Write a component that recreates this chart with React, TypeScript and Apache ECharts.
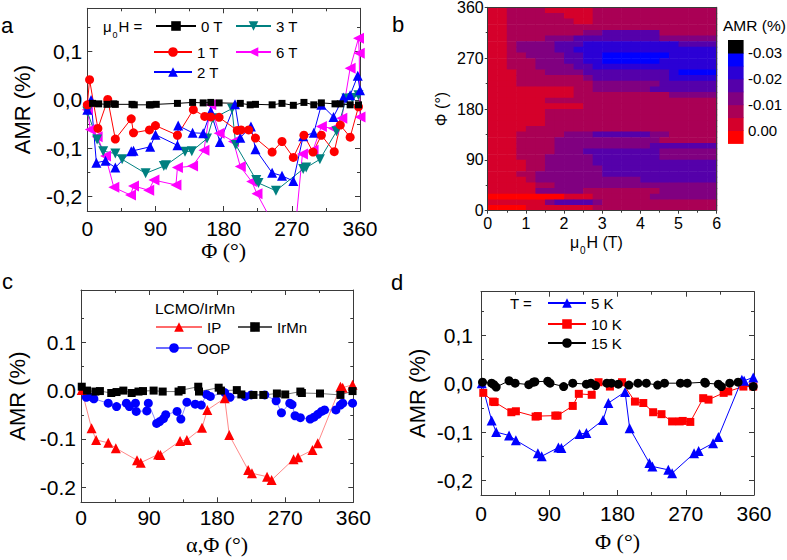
import React, { useEffect, useRef } from 'react';
import * as echarts from 'echarts';

const SANS = '"Liberation Sans", Arial, Helvetica, sans-serif';
const SERIF = '"Liberation Serif", "Times New Roman", Times, serif';
const INK = '#000000';
const FRAME = '#3a3a3a';

// ---------- shared ticks ----------
const PHI_TICK_STEP = 90;
const AMR_MAJOR = [-0.2, -0.1, 0, 0.1];
const AMR_MINOR = [-0.15, -0.05, 0.05, 0.15];

// ---------- panel a : AMR vs Φ for several fields ----------
const A_0T = [[7,-0.007],[15,-0.008],[26,-0.009],[35,-0.008],[37,-0.009],[59,-0.009],[62,-0.01],[82,-0.01],[84,-0.01],[91,-0.009],[119,-0.007],[139,-0.005],[153,-0.006],[163,-0.005],[174,-0.006],[202,-0.007],[215,-0.01],[222,-0.009],[244,-0.01],[257,-0.007],[272,-0.011],[286,-0.005],[299,-0.01],[309,-0.006],[327,-0.008],[334,-0.008],[347,-0.01],[358,-0.01]];
const A_1T = [[0,-0.01],[3,0.042],[14,-0.059],[27,0.001],[37,-0.081],[58,-0.039],[61,-0.068],[82,-0.062],[90,-0.053],[119,-0.073],[140,-0.02],[155,-0.034],[163,-0.035],[174,-0.036],[198,-0.063],[203,-0.062],[213,-0.062],[222,-0.079],[244,-0.108],[257,-0.086],[272,-0.119],[286,-0.073],[298,-0.108],[309,-0.073],[326,-0.107],[334,-0.052],[347,-0.077],[358,-0.014]];
const A_2T = [[0,-0.02],[5,0.0],[12,-0.13],[24,-0.126],[37,-0.14],[58,-0.106],[61,-0.105],[83,-0.097],[90,-0.072],[119,-0.094],[120,-0.053],[139,-0.068],[153,-0.069],[163,-0.024],[175,-0.087],[195,-0.009],[202,-0.078],[216,-0.055],[222,-0.102],[244,-0.151],[257,-0.157],[272,-0.168],[285,-0.075],[299,-0.068],[309,-0.01],[325,-0.035],[338,0.005],[347,0.01],[357,0.05],[360,0.02]];
const A_3T = [[0,-0.024],[13,-0.082],[21,-0.106],[37,-0.111],[46,-0.123],[77,-0.152],[101,-0.137],[104,-0.135],[129,-0.107],[138,-0.106],[158,-0.08],[166,-0.038],[191,-0.018],[196,-0.093],[223,-0.166],[226,-0.172],[249,-0.188],[285,-0.143],[289,-0.14],[307,-0.123],[329,-0.065],[342,0.003],[350,0.004],[358,0.01]];
const A_6T = [[0,-0.02],[4,-0.061],[13,-0.076],[24,-0.116],[35,-0.181],[57,-0.197],[61,-0.178],[81,-0.187],[88,-0.166],[117,-0.176],[119,-0.14],[139,-0.137],[154,-0.104],[163,-0.01],[174,-0.069],[193,-0.086],[202,-0.138],[217,-0.169],[224,-0.194],[250,-0.27],[275,-0.26],[284,-0.112],[298,-0.104],[309,-0.055],[325,-0.059],[336,-0.038],[347,0.066],[358,0.128],[359,0.097],[360,-0.035]];

// ---------- panel b : contour map AMR(μ0H, Φ) ----------
const FIELD_TICK_STEP = 1;
const HEAT_FIELD_STEP = 0.25; // T per cell
const HEAT_PHI_STEP = 10; // degrees per cell
// colour-bar band edges (AMR %), top band value 0.005 .. bottom -0.035
const COLORBAR_EDGES = [0.005, 0, -0.005, -0.01, -0.015, -0.02, -0.025, -0.03, -0.035];
const COLORBAR_TICKS = [-0.03, -0.02, -0.01, 0];
const BAND_COLORS = ['#FF0000', '#D5002B', '#AA0055', '#800080', '#5500AA', '#2B00D5', '#0000FF', '#000000'];
// AMR value of each band (band centre)
const BAND_VALUES = [0.0025, -0.0025, -0.0075, -0.0125, -0.0175, -0.0225, -0.0275, -0.0325];
// rows from Φ = 360 (top) to Φ = 0 (bottom); each char = band index of a 0.25 T cell, μ0H 0 → 6 T
const HEAT_ROWS = [
  '112222111112222222222222',
  '112222221112222222222222',
  '112222222112222222222222',
  '112222222222222222222222',
  '112222222233444444222222',
  '112222333444444444333333',
  '112333344455555555554444',
  '112333344555555555555555',
  '112233334455666666655555',
  '112223334455666666555555',
  '112223333445555555555555',
  '111222333344444444456666',
  '111222222234444444455555',
  '111222222223333333444444',
  '111111111223333334444444',
  '111111111222222222233333',
  '111111222222222222222222',
  '111111111122222222222222',
  '111111222222222222222222',
  '111111222222222222222222',
  '111111222222222222222222',
  '111122222222222222222222',
  '111222223334444443322222',
  '111222233333333333222222',
  '111222233333333334444444',
  '111222233344444444333333',
  '111222333334444444333333',
  '111122333334444444444444',
  '111122333333444444444444',
  '111223333333444444444444',
  '111123333333333344444444',
  '111112233333333333333333',
  '111113333322222222333333',
  '000000001112222223333333',
  '111111344443222222222222',
  '000011111112222222222222',
];

// ---------- panel c : LCMO/IrMn ----------
const C_IP = [[1,0.001],[14,-0.078],[20,-0.102],[36,-0.108],[46,-0.119],[74,-0.144],[79,-0.149],[102,-0.132],[105,-0.133],[131,-0.104],[140,-0.102],[160,-0.077],[167,-0.04],[190,-0.016],[196,-0.092],[221,-0.164],[226,-0.171],[246,-0.178],[252,-0.185],[281,-0.142],[287,-0.138],[306,-0.123],[313,-0.109],[343,0.008],[346,0.006],[359,0.012]];
const C_OOP = [[7,-0.014],[15,-0.014],[17,-0.017],[36,-0.026],[47,-0.033],[60,-0.026],[64,-0.033],[72,-0.026],[73,-0.043],[87,-0.042],[89,-0.026],[100,-0.068],[104,-0.064],[109,-0.058],[112,-0.05],[127,-0.043],[132,-0.059],[140,-0.024],[151,-0.028],[159,-0.03],[166,-0.008],[171,-0.012],[190,-0.004],[197,-0.014],[217,-0.012],[225,-0.009],[243,-0.009],[258,-0.021],[265,-0.046],[276,-0.026],[279,-0.029],[283,-0.052],[290,-0.056],[303,-0.059],[308,-0.055],[313,-0.049],[318,-0.043],[322,-0.04],[337,-0.04],[343,-0.03],[346,-0.026],[359,-0.026]];
const C_IRMN = [[1,0.008],[8,0.0],[19,-0.002],[25,-0.001],[40,-0.005],[47,-0.003],[56,0.0],[67,-0.005],[76,-0.002],[82,-0.001],[96,0.0],[108,-0.002],[129,-0.002],[133,0.001],[155,0.008],[156,-0.002],[182,0.006],[185,0.0],[206,0.001],[212,-0.008],[228,-0.009],[241,-0.009],[259,-0.006],[270,-0.008],[290,-0.002],[292,-0.005],[316,-0.006],[343,-0.009],[359,-0.001]];

// ---------- panel d : temperatures ----------
const D_5K = [[1,0.001],[14,-0.076],[20,-0.1],[37,-0.107],[46,-0.117],[75,-0.144],[80,-0.15],[102,-0.132],[106,-0.133],[130,-0.104],[139,-0.102],[161,-0.075],[168,-0.04],[190,-0.017],[196,-0.092],[222,-0.164],[226,-0.171],[247,-0.178],[252,-0.185],[281,-0.144],[287,-0.139],[306,-0.123],[313,-0.11],[344,0.008],[347,0.006],[359,0.013]];
const D_10K = [[3,-0.019],[16,-0.037],[18,-0.038],[40,-0.059],[46,-0.057],[72,-0.068],[75,-0.067],[98,-0.066],[101,-0.066],[121,-0.046],[129,-0.021],[146,-0.023],[155,0.003],[170,-0.006],[186,0.003],[203,-0.037],[214,-0.04],[227,-0.059],[238,-0.063],[252,-0.078],[262,-0.078],[266,-0.077],[276,-0.079],[293,-0.03],[300,-0.033],[320,-0.019],[326,-0.016],[346,-0.006],[359,-0.006]];
const D_15K = [[2,0.003],[14,0.001],[17,-0.002],[20,-0.007],[37,0.006],[45,0.001],[63,-0.002],[69,0.003],[71,0.004],[88,0.005],[91,0.001],[109,-0.006],[121,0.001],[139,-0.001],[145,0.001],[151,-0.004],[166,0.001],[172,0.001],[181,-0.001],[195,-0.003],[207,0.001],[218,0.001],[233,-0.003],[242,0.001],[263,0.001],[272,0.001],[295,0.003],[296,0.001],[313,-0.001],[317,-0.006],[328,0.001],[339,0.003],[359,-0.006]];

const TRI_DOWN = 'path://M0,0L10,0L5,10Z';
const TRI_LEFT = 'path://M0,5L10,0L10,10Z';

function colorFor(v: number): string {
  for (let i = 0; i < BAND_COLORS.length; i++) {
    if (v <= COLORBAR_EDGES[i] && v > COLORBAR_EDGES[i + 1]) return BAND_COLORS[i];
  }
  return v > 0 ? BAND_COLORS[0] : BAND_COLORS[BAND_COLORS.length - 1];
}

const commaFmt = (v: number) => v.toFixed(1).replace('.', ',');
const dotFmt = (v: number) => v.toFixed(1);

function linePanelAxes(grid: number, yRange: number[], yFmt: (v: number) => string, xName: string, xGap: number, yGap: number, xMargin: number, yMargin: number) {
  const line = { show: true, onZero: false, lineStyle: { color: FRAME, width: 1 } };
  const tickStyle = { color: FRAME, width: 1 };
  const xCommon: any = {
    type: 'value', gridIndex: grid, min: 0, max: 360, interval: PHI_TICK_STEP,
    splitLine: { show: false }, axisLine: line,
    axisTick: { show: true, inside: true, length: 5, lineStyle: tickStyle },
    minorTick: { show: true, splitNumber: 2, length: 3, lineStyle: tickStyle },
  };
  const xs = [
    { ...xCommon, position: 'bottom',
      axisLabel: { show: true, fontSize: 21, color: INK, fontFamily: SANS, margin: xMargin },
      name: xName, nameLocation: 'middle', nameGap: xGap,
      nameTextStyle: { fontSize: 22, fontFamily: SERIF, color: INK } },
    { ...xCommon, position: 'top', axisLabel: { show: false } },
  ];
  const yCommon: any = {
    type: 'value', gridIndex: grid, min: yRange[0], max: yRange[1],
    splitLine: { show: false }, axisLine: line, axisLabel: { show: false },
  };
  const ys = [
    { ...yCommon, position: 'left',
      axisTick: { show: true, inside: true, length: 5, customValues: AMR_MAJOR, lineStyle: tickStyle },
      axisLabel: { show: true, customValues: AMR_MAJOR, formatter: yFmt, fontSize: 21, color: INK, fontFamily: SANS, margin: yMargin },
      name: 'AMR (%)', nameLocation: 'middle', nameGap: yGap,
      nameTextStyle: { fontSize: 22, fontFamily: SANS, color: INK } },
    { ...yCommon, position: 'right',
      axisTick: { show: true, inside: true, length: 5, customValues: AMR_MAJOR, lineStyle: tickStyle } },
    { ...yCommon, position: 'left', axisLine: { show: false, onZero: false },
      axisTick: { show: true, inside: true, length: 3, customValues: AMR_MINOR, lineStyle: tickStyle } },
    { ...yCommon, position: 'right', axisLine: { show: false, onZero: false },
      axisTick: { show: true, inside: true, length: 3, customValues: AMR_MINOR, lineStyle: tickStyle } },
  ];
  return { xs, ys };
}

function lineSeries(name: string, data: number[][], xi: number, yi: number, color: string, symbol: string, size: number, lineColor?: string, lineWidth?: number) {
  return {
    type: 'line', name, data, xAxisIndex: xi, yAxisIndex: yi,
    symbol, symbolSize: size, showSymbol: true, clip: true,
    itemStyle: { color, borderWidth: 0 },
    lineStyle: { color: lineColor || color, width: lineWidth || 1 },
    emphasis: { disabled: true }, z: 3,
  };
}

function legendItem(name: string, left: number, top: number, itemWidth: number) {
  return {
    data: [name], left, top, orient: 'horizontal', itemWidth, itemHeight: 12, itemGap: 0,
    padding: 0, selectedMode: false,
    textStyle: { fontSize: 15, color: INK, fontFamily: SANS, lineHeight: 16 },
  };
}

function txt(text: string, x: number, y: number, size: number, family = SANS, rotation = 0) {
  return {
    type: 'text', x, y, rotation, z: 100, silent: true,
    style: {
      text, fill: INK, font: `${size}px ${family}`,
      align: 'left', verticalAlign: 'middle', textAlign: 'left', textVerticalAlign: 'middle',
    },
  };
}

function rectItem(_params: any, api: any) {
  const p0 = api.coord([api.value(0), api.value(2)]);
  const p1 = api.coord([api.value(1), api.value(3)]);
  const x = Math.min(p0[0], p1[0]);
  const y = Math.min(p0[1], p1[1]);
  return {
    type: 'rect',
    shape: { x, y, width: Math.abs(p1[0] - p0[0]) + 0.6, height: Math.abs(p1[1] - p0[1]) + 0.6 },
    style: { fill: colorFor(api.value(4)) },
  };
}

function buildOption() {
  const heatData: number[][] = [];
  HEAT_ROWS.forEach((row, i) => {
    const phiTop = 360 - i * HEAT_PHI_STEP;
    for (let j = 0; j < row.length; j++) {
      const lvl = Number(row[j]);
      heatData.push([j * HEAT_FIELD_STEP, (j + 1) * HEAT_FIELD_STEP, phiTop - HEAT_PHI_STEP, phiTop, BAND_VALUES[lvl]]);
    }
  });
  const barData: number[][] = [];
  for (let i = 0; i < COLORBAR_EDGES.length - 1; i++) {
    barData.push([0, 1, COLORBAR_EDGES[i + 1], COLORBAR_EDGES[i], BAND_VALUES[i]]);
  }

  const a = linePanelAxes(0, [-0.23, 0.19], commaFmt, 'Φ (°)', 27, 54, 7, 5);
  const c = linePanelAxes(3, [-0.231, 0.208], dotFmt, 'α,Φ (°)', 31, 53, 5, 5);
  const d = linePanelAxes(4, [-0.23, 0.19], commaFmt, 'Φ (°)', 35, 53, 8, 8);

  const bLine = { show: true, onZero: false, lineStyle: { color: FRAME, width: 1 } };
  const bTick = { color: FRAME, width: 1 };
  const bX = [
    { type: 'value', gridIndex: 1, min: 0, max: 6, interval: FIELD_TICK_STEP, position: 'bottom', z: 10,
      axisLine: bLine, axisTick: { show: true, inside: false, length: 3, lineStyle: bTick },
      minorTick: { show: true, splitNumber: 2, length: 2, lineStyle: bTick },
      axisLabel: { fontSize: 16, color: INK, fontFamily: SANS, margin: 5 }, splitLine: { show: false } },
    { type: 'value', gridIndex: 1, min: 0, max: 6, position: 'top', z: 10,
      axisLine: bLine, axisTick: { show: false }, axisLabel: { show: false }, splitLine: { show: false } },
  ];
  const bY = [
    { type: 'value', gridIndex: 1, min: 0, max: 360, interval: PHI_TICK_STEP, position: 'left', z: 10,
      axisLine: bLine, axisTick: { show: true, inside: false, length: 3, lineStyle: bTick },
      minorTick: { show: true, splitNumber: 2, length: 2, lineStyle: bTick },
      axisLabel: { fontSize: 16, color: INK, fontFamily: SANS, margin: 4 }, splitLine: { show: false },
      name: 'Φ (°)', nameLocation: 'middle', nameGap: 38,
      nameTextStyle: { fontSize: 16, fontFamily: SANS, color: INK } },
    { type: 'value', gridIndex: 1, min: 0, max: 360, position: 'right', z: 10,
      axisLine: bLine, axisTick: { show: false }, axisLabel: { show: false }, splitLine: { show: false } },
  ];
  const cbX = [{ type: 'value', gridIndex: 2, min: 0, max: 1, show: false }];
  const cbY = [{ type: 'value', gridIndex: 2, min: COLORBAR_EDGES[COLORBAR_EDGES.length - 1], max: COLORBAR_EDGES[0],
    inverse: true, position: 'right', axisLine: { show: false }, axisTick: { show: false }, splitLine: { show: false },
    axisLabel: { show: true, customValues: COLORBAR_TICKS, formatter: (v: number) => v.toFixed(2), fontSize: 15, color: INK, fontFamily: SANS, margin: 5 } }];

  // axis index bookkeeping
  const xAxis = [...a.xs, ...bX, ...cbX, ...c.xs, ...d.xs]; // a:0,1 b:2,3 cb:4 c:5,6 d:7,8
  const yAxis = [...a.ys, ...bY, ...cbY, ...c.ys, ...d.ys]; // a:0-3 b:4,5 cb:6 c:7-10 d:11-14

  const series: any[] = [
    lineSeries('6 T', A_6T, 0, 0, '#FF00FF', TRI_LEFT, 11),
    lineSeries('3 T', A_3T, 0, 0, '#008080', TRI_DOWN, 10),
    lineSeries('2 T', A_2T, 0, 0, '#0000FF', 'triangle', 10),
    lineSeries('1 T', A_1T, 0, 0, '#FF0000', 'circle', 9),
    lineSeries('0 T', A_0T, 0, 0, '#000000', 'rect', 7),
    { type: 'custom', name: 'map', xAxisIndex: 2, yAxisIndex: 4, data: heatData, renderItem: rectItem,
      encode: { x: [0, 1], y: [2, 3] }, clip: true, silent: true, z: 1 },
    { type: 'custom', name: 'bar', xAxisIndex: 4, yAxisIndex: 6, data: barData, renderItem: rectItem,
      encode: { x: [0, 1], y: [2, 3] }, silent: true, z: 1 },
    lineSeries('OOP', C_OOP, 5, 7, '#0000FF', 'circle', 9, '#6a6aff', 0.8),
    lineSeries('IP', C_IP, 5, 7, '#FF0000', 'triangle', 10, '#ff6a6a', 0.8),
    lineSeries('IrMn', C_IRMN, 5, 7, '#000000', 'rect', 8, '#555555', 0.8),
    lineSeries('10 K', D_10K, 7, 11, '#FF0000', 'rect', 8),
    lineSeries('5 K', D_5K, 7, 11, '#0000FF', 'triangle', 10),
    lineSeries('15 K', D_15K, 7, 11, '#000000', 'circle', 9),
  ];

  const legend = [
    legendItem('0 T', 155, 18, 40),
    legendItem('3 T', 235, 18, 35),
    legendItem('1 T', 153, 44, 38),
    legendItem('6 T', 235, 44, 35),
    legendItem('2 T', 153, 64, 38),
    legendItem('IP', 155, 319, 46),
    legendItem('IrMn', 237, 319, 34),
    legendItem('OOP', 155, 340, 36),
    legendItem('5 K', 547, 295, 38),
    legendItem('10 K', 547, 316, 38),
    legendItem('15 K', 547, 335, 38),
  ];

  const graphicEls = [
    txt('a', 1, 25, 22),
    txt('b', 392, 24, 22),
    txt('c', 2, 281, 22),
    txt('d', 391, 282, 22),
    txt('μ', 103, 26, 15),
    txt('0', 112.6, 35, 9),
    txt('H =', 118.5, 26, 15),
    txt('μ', 570, 242, 16),
    txt('0', 580, 250, 10),
    txt('H (T)', 586.5, 242, 16),
    txt('AMR (%)', 723, 25, 15.5),
    txt('LCMO/IrMn', 155, 308.5, 15.5),
    txt('T =', 510, 303, 15),
  ];

  return {
    animation: false,
    backgroundColor: '#ffffff',
    textStyle: { fontFamily: SANS },
    grid: [
      { left: 87.3, top: 8.3, width: 272.7, height: 202.7, outerBoundsMode: 'none' },
      { left: 487.7, top: 7.3, width: 229, height: 203.4, outerBoundsMode: 'none' },
      { left: 728, top: 40, width: 15, height: 103.3, outerBoundsMode: 'none' },
      { left: 81, top: 290, width: 272.3, height: 212.3, outerBoundsMode: 'none' },
      { left: 481, top: 291.7, width: 273, height: 203.3, outerBoundsMode: 'none' },
    ],
    xAxis, yAxis, series, legend,
    graphic: { elements: graphicEls },
  };
}

export default function App() {
  const ref = useRef<HTMLDivElement>(null);
  useEffect(() => {
    const chart = echarts.init(ref.current as HTMLDivElement, null, { renderer: 'svg' });
    chart.setOption(buildOption() as any);
    return () => chart.dispose();
  }, []);
  return <div ref={ref} style={{ position: 'absolute', left: 0, top: 0, width: 787, height: 560, background: '#fff' }} />;
}
